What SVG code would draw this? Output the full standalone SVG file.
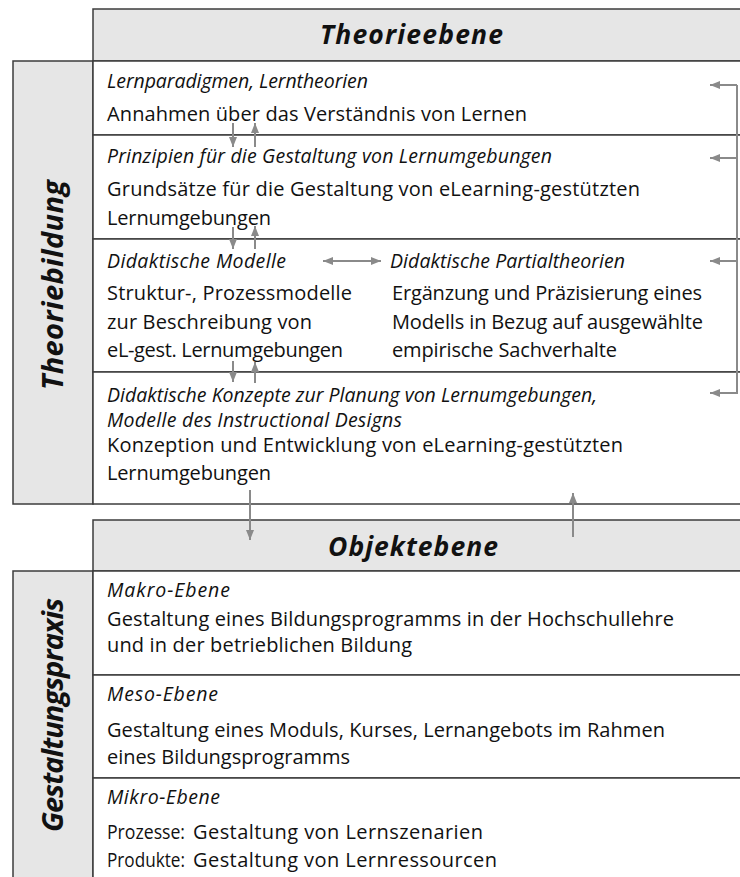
<svg xmlns="http://www.w3.org/2000/svg" width="740" height="877" viewBox="0 0 740 877">
  <style>
    .box { fill: #ffffff; stroke: #3c3c3c; stroke-width: 1.5; }
    .band { fill: #e6e6e6; stroke: #3c3c3c; stroke-width: 1.5; }
    .t { font-family: "Open Sans", Lato, "Liberation Sans", sans-serif; font-size: 20px; fill: #111; }
    .i { font-family: "Open Sans", Lato, "Liberation Sans", sans-serif; font-size: 19.5px; font-style: italic; fill: #111; }
    .h { font-family: "Open Sans", Lato, "Liberation Sans", sans-serif; font-size: 26.5px; font-style: italic; font-weight: bold; fill: #111; }
    .v { font-family: "Open Sans", Lato, "Liberation Sans", sans-serif; font-size: 29px; font-style: italic; font-weight: bold; fill: #111; }
    .c { fill: none; stroke: #8a8a8a; stroke-width: 2; }
  </style>
  <defs>
    <marker id="ah" viewBox="0 0 10 8" refX="10" refY="4" markerWidth="5" markerHeight="4" orient="auto" markerUnits="strokeWidth">
      <path d="M0,0 L10,4 L0,8 Z" fill="#8a8a8a"/>
    </marker>
  </defs>

  <!-- Theorieebene -->
  <g id="header-theorie">
    <rect class="band" x="93" y="9" width="652" height="52"/>
    <text class="h" x="320" y="44" textLength="183">Theorieebene</text>
  </g>
  <g id="theoriebildung">
    <rect class="band" x="13" y="61" width="80" height="443"/>
    <text class="v" transform="translate(63,390) rotate(-90)" textLength="210">Theoriebildung</text>
  </g>
  <g id="lernparadigmen">
    <rect class="box" x="93" y="61" width="652" height="74"/>
    <text class="i" x="107" y="88" textLength="261">Lernparadigmen, Lerntheorien</text>
    <text class="t" x="107" y="121" textLength="420">Annahmen über das Verständnis von Lernen</text>
  </g>
  <g id="prinzipien">
    <rect class="box" x="93" y="135" width="652" height="104"/>
    <text class="i" x="107" y="163" textLength="445">Prinzipien für die Gestaltung von Lernumgebungen</text>
    <text class="t" x="107" y="196" textLength="533">Grundsätze für die Gestaltung von eLearning-gestützten</text>
    <text class="t" x="107" y="225" textLength="164">Lernumgebungen</text>
  </g>
  <g id="modelle">
    <rect class="box" x="93" y="239" width="652" height="133"/>
    <text class="i" x="107" y="268" textLength="179">Didaktische Modelle</text>
    <text class="t" x="107" y="300" textLength="245">Struktur-, Prozessmodelle</text>
    <text class="t" x="107" y="329" textLength="205">zur Beschreibung von</text>
    <text class="t" x="107" y="357" textLength="236">eL-gest. Lernumgebungen</text>
  </g>
  <g id="partialtheorien">
    <text class="i" x="390" y="268" textLength="235">Didaktische Partialtheorien</text>
    <text class="t" x="392" y="300" textLength="310">Ergänzung und Präzisierung eines</text>
    <text class="t" x="392" y="329" textLength="311">Modells in Bezug auf ausgewählte</text>
    <text class="t" x="392" y="357" textLength="225">empirische Sachverhalte</text>
  </g>
  <g id="konzepte">
    <rect class="box" x="93" y="372" width="652" height="132"/>
    <text class="i" x="107" y="402" textLength="490">Didaktische Konzepte zur Planung von Lernumgebungen,</text>
    <text class="i" x="107" y="427" textLength="295">Modelle des Instructional Designs</text>
    <text class="t" x="107" y="452" textLength="516">Konzeption und Entwicklung von eLearning-gestützten</text>
    <text class="t" x="107" y="480" textLength="164">Lernumgebungen</text>
  </g>

  <!-- Objektebene -->
  <g id="header-objekt">
    <rect class="band" x="93" y="520" width="652" height="51"/>
    <text class="h" x="328" y="556" textLength="170">Objektebene</text>
  </g>
  <g id="gestaltungspraxis">
    <rect class="band" x="13" y="571" width="80" height="310"/>
    <text class="v" transform="translate(63,832) rotate(-90)" textLength="234">Gestaltungspraxis</text>
  </g>
  <g id="makro">
    <rect class="box" x="93" y="571" width="652" height="104"/>
    <text class="i" x="107" y="597" textLength="123">Makro-Ebene</text>
    <text class="t" x="107" y="626" textLength="567">Gestaltung eines Bildungsprogramms in der Hochschullehre</text>
    <text class="t" x="107" y="652" textLength="305">und in der betrieblichen Bildung</text>
  </g>
  <g id="meso">
    <rect class="box" x="93" y="675" width="652" height="103"/>
    <text class="i" x="107" y="701" textLength="111">Meso-Ebene</text>
    <text class="t" x="107" y="737" textLength="558">Gestaltung eines Moduls, Kurses, Lernangebots im Rahmen</text>
    <text class="t" x="107" y="764" textLength="243">eines Bildungsprogramms</text>
  </g>
  <g id="mikro">
    <rect class="box" x="93" y="778" width="652" height="103"/>
    <text class="i" x="107" y="804" textLength="113">Mikro-Ebene</text>
    <text class="t" x="107" y="839" textLength="78" lengthAdjust="spacingAndGlyphs">Prozesse:</text>
    <text class="t" x="193" y="839" textLength="290">Gestaltung von Lernszenarien</text>
    <text class="t" x="107" y="867" textLength="78" lengthAdjust="spacingAndGlyphs">Produkte:</text>
    <text class="t" x="193" y="867" textLength="304">Gestaltung von Lernressourcen</text>
  </g>

  <!-- connectors -->
  <g id="connectors">
    <!-- feedback bracket on the right -->
    <path class="c" d="M737,85 V394"/>
    <path class="c" d="M737,85 H710" marker-end="url(#ah)"/>
    <path class="c" d="M737,158 H710" marker-end="url(#ah)"/>
    <path class="c" d="M737,261 H710" marker-end="url(#ah)"/>
    <path class="c" d="M737,393 H710" marker-end="url(#ah)"/>
    <!-- between the theory rows -->
    <path class="c" d="M233,123 V147" marker-end="url(#ah)"/>
    <path class="c" d="M255,147 V123" marker-end="url(#ah)"/>
    <path class="c" d="M233,227 V249" marker-end="url(#ah)"/>
    <path class="c" d="M255,249 V226" marker-end="url(#ah)"/>
    <path class="c" d="M233,361 V382" marker-end="url(#ah)"/>
    <path class="c" d="M255,383 V362" marker-end="url(#ah)"/>
    <!-- Modelle <-> Partialtheorien -->
    <path class="c" d="M352,261 H323" marker-end="url(#ah)"/>
    <path class="c" d="M351,261 H381" marker-end="url(#ah)"/>
    <!-- between the two levels -->
    <path class="c" d="M250,490 V540" marker-end="url(#ah)"/>
    <path class="c" d="M573,537 V493" marker-end="url(#ah)"/>
  </g>
</svg>
